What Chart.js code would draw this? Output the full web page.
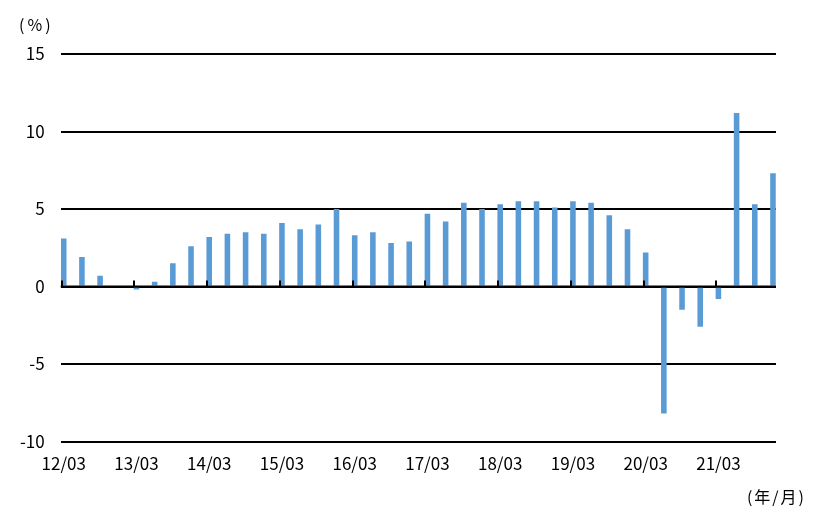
<!DOCTYPE html>
<html lang="ja">
<head>
<meta charset="utf-8">
<script src="https://cdn.jsdelivr.net/npm/chart.js@4.4.1/dist/chart.umd.min.js"></script>
<style>
  html, body { margin: 0; padding: 0; background: #fff; }
  #wrap { width: 840px; height: 525px; }
</style>
</head>
<body>
<div id="wrap"><canvas id="growthChart" width="840" height="525"></canvas></div>
<script>
// Quarterly data, year/month
const quarters = [
    '12/03', '12/06', '12/09', '12/12',
    '13/03', '13/06', '13/09', '13/12',
    '14/03', '14/06', '14/09', '14/12',
    '15/03', '15/06', '15/09', '15/12',
    '16/03', '16/06', '16/09', '16/12',
    '17/03', '17/06', '17/09', '17/12',
    '18/03', '18/06', '18/09', '18/12',
    '19/03', '19/06', '19/09', '19/12',
    '20/03', '20/06', '20/09', '20/12',
    '21/03', '21/06', '21/09', '21/12'
];
const growth = [
    3.1, 1.9, 0.7, 0.0,
    -0.2, 0.3, 1.5, 2.6,
    3.2, 3.4, 3.5, 3.4,
    4.1, 3.7, 4.0, 5.0,
    3.3, 3.5, 2.8, 2.9,
    4.7, 4.2, 5.4, 5.0,
    5.3, 5.5, 5.5, 5.1,
    5.5, 5.4, 4.6, 3.7,
    2.2, -8.2, -1.5, -2.6,
    -0.8, 11.2, 5.3, 7.3
];
const yTicks = [-10, -5, 0, 5, 10, 15];

const FONT = '"Noto Sans CJK JP", "Noto Sans", sans-serif';
const BAR_COLOR = '#5b9bd5';

// The axis is a monthly date axis: each quarter takes the first month slot
const monthLabels = [];
const monthValues = [];
quarters.forEach((q, i) => {
    monthLabels.push(q);
    monthValues.push(growth[i]);
    if (i < quarters.length - 1) {
        monthLabels.push('', '');
        monthValues.push(null, null);
    }
});

// Draws the zero axis line, its year tick marks and the unit captions
const decorations = {
    id: 'decorations',
    afterDatasetsDraw(chart) {
        const ctx = chart.ctx;
        const x = chart.scales.x;
        const y = chart.scales.y;
        const area = chart.chartArea;
        const y0 = y.getPixelForValue(0);
        const slot = x.getPixelForValue(1) - x.getPixelForValue(0);

        ctx.save();
        ctx.strokeStyle = '#000';
        ctx.lineWidth = 2;
        ctx.beginPath();
        ctx.moveTo(area.left, y0);
        ctx.lineTo(area.right, y0);
        for (let i = 0; i < monthLabels.length; i += 12) {
            const px = Math.round(x.getPixelForValue(i) - slot / 2) + 1;
            ctx.moveTo(px, y0);
            ctx.lineTo(px, y0 - 6);
        }
        ctx.stroke();
        ctx.restore();
    },
    afterDraw(chart) {
        const ctx = chart.ctx;
        ctx.save();
        ctx.fillStyle = '#000';
        ctx.font = '16px ' + FONT;
        ctx.textBaseline = 'middle';
        ctx.letterSpacing = '3px';
        ctx.textAlign = 'left';
        ctx.fillText('(%)', 19, 25);
        ctx.letterSpacing = '2px';
        ctx.textAlign = 'right';
        ctx.fillText('(年/月)', 806, 497);
        ctx.restore();
    }
};

new Chart(document.getElementById('growthChart'), {
    type: 'bar',
    data: {
        labels: monthLabels,
        datasets: [{
            data: monthValues,
            backgroundColor: BAR_COLOR,
            borderWidth: 0,
            categoryPercentage: 0.92,
            barPercentage: 1.0
        }]
    },
    options: {
        responsive: false,
        animation: false,
        layout: {
            padding: { left: 0, right: 64, top: 54, bottom: 0 }
        },
        plugins: {
            legend: { display: false },
            tooltip: { enabled: false }
        },
        scales: {
            x: {
                offset: true,
                grid: { display: false },
                border: { display: false },
                ticks: {
                    autoSkip: false,
                    maxRotation: 0,
                    minRotation: 0,
                    padding: 4,
                    color: '#000',
                    font: { family: FONT, size: 17 },
                    callback: function(value, index) {
                        return index % 12 === 0 ? monthLabels[index] : null;
                    }
                },
                afterFit: function(scale) {
                    scale.height = 83.5;
                }
            },
            y: {
                min: yTicks[0],
                max: yTicks[yTicks.length - 1],
                afterBuildTicks: function(scale) {
                    scale.ticks = yTicks.map(v => ({ value: v }));
                },
                grid: {
                    color: '#000',
                    lineWidth: 2,
                    drawTicks: false
                },
                border: { display: false },
                ticks: {
                    padding: 16,
                    color: '#000',
                    font: { family: FONT, size: 17 }
                },
                afterFit: function(scale) {
                    scale.width = 60.7;
                }
            }
        }
    },
    plugins: [decorations]
});
</script>
</body>
</html>
